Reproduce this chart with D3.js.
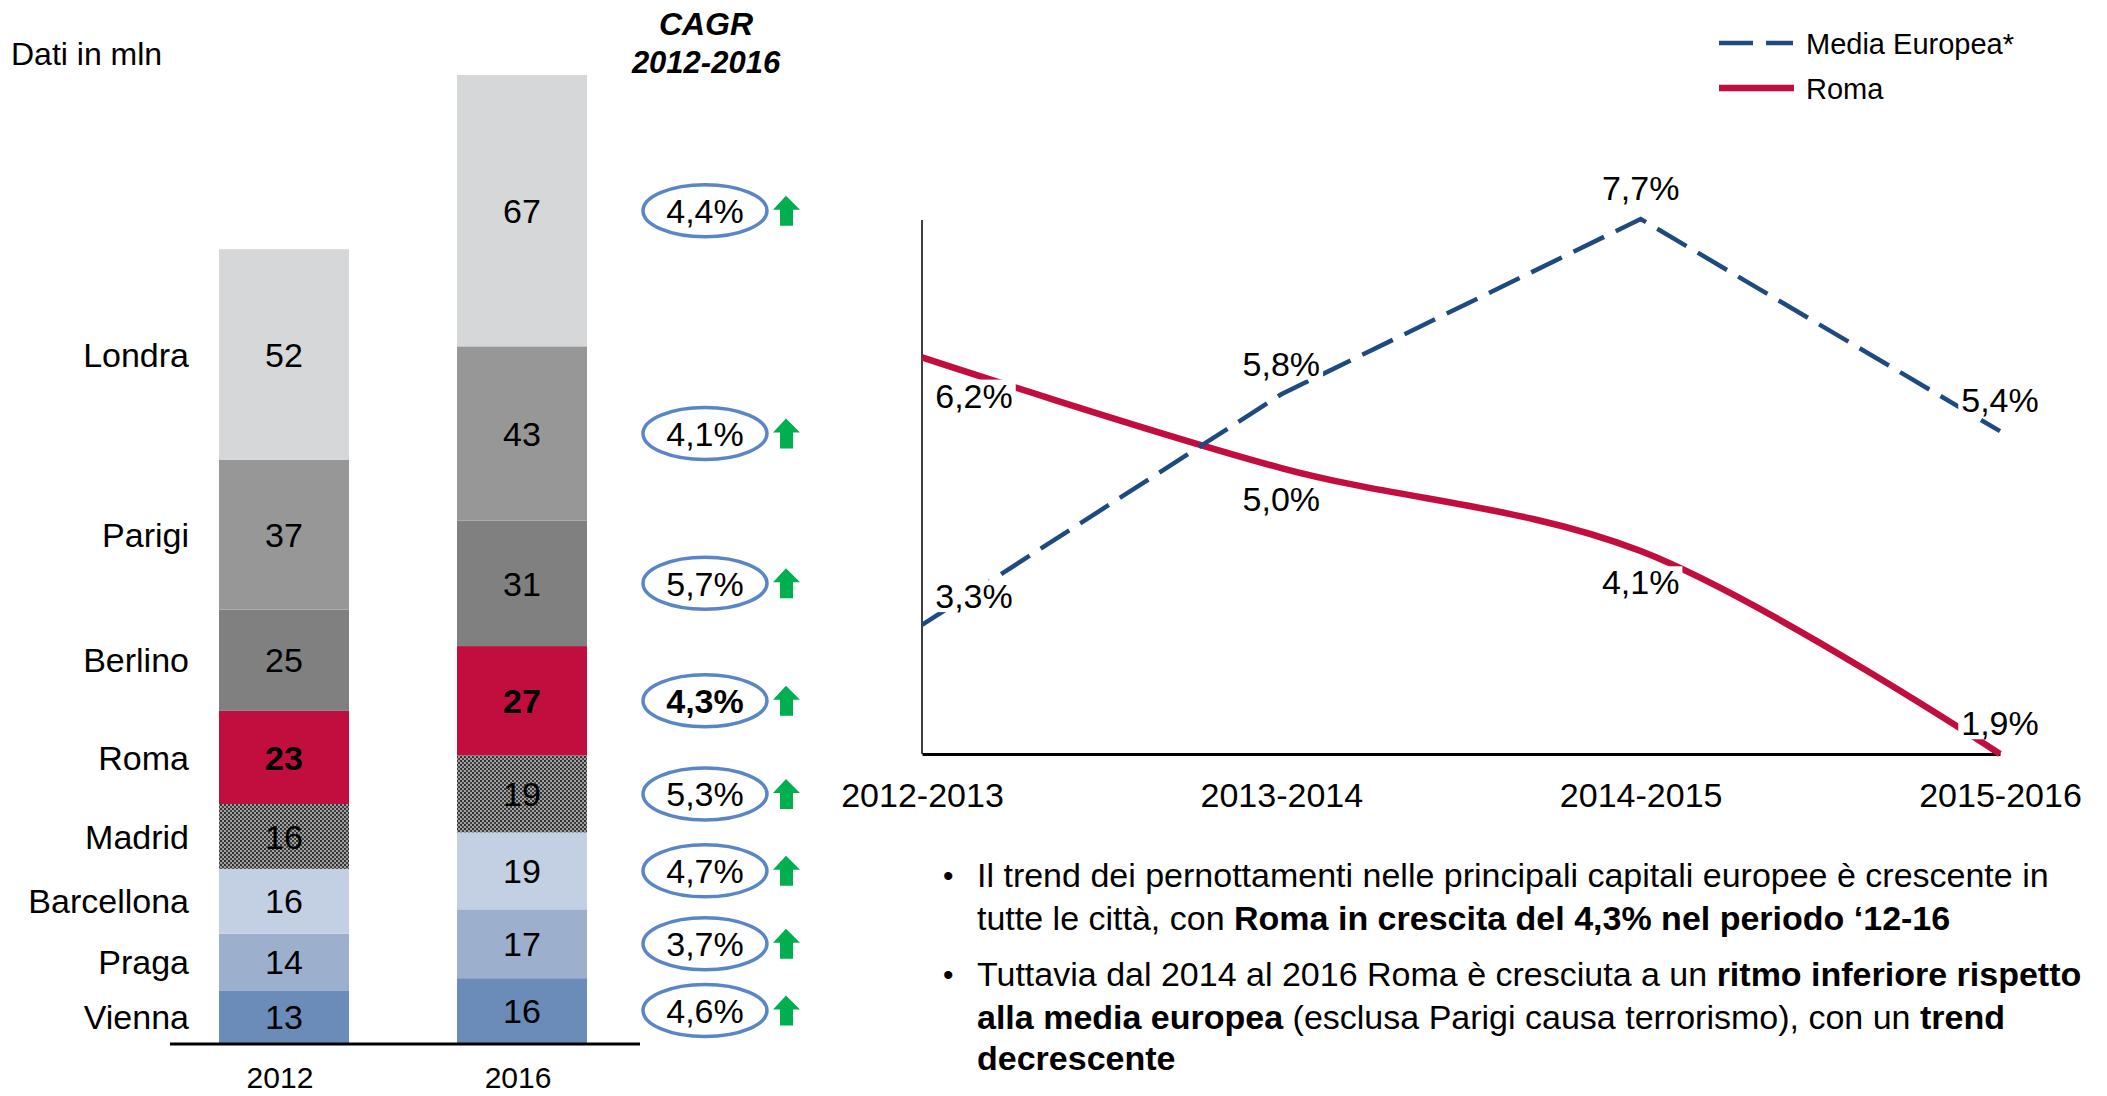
<!DOCTYPE html>
<html lang="it">
<head>
    <meta charset="UTF-8">
    <title>pernottamenti</title>
    <script src="https://cdn.jsdelivr.net/npm/d3@7"></script>
    <style>
        body { margin: 0; background: #fff; }
        text { font-family: "Liberation Sans", Arial, sans-serif; fill: #000; }
    </style>
</head>
<body>
<div id="container"></div>
<script>
    // dati (milioni di pernottamenti), dal basso verso l'alto
    const years = ["2012", "2016"];
    const cities = ["Vienna", "Praga", "Barcellona", "Madrid", "Roma", "Berlino", "Parigi", "Londra"];
    const values2012 = [13, 14, 16, 16, 23, 25, 37, 52];
    const values2016 = [16, 17, 19, 19, 27, 31, 43, 67];
    const cagr = ["4,6%", "3,7%", "4,7%", "5,3%", "4,3%", "5,7%", "4,1%", "4,4%"];

    // trend
    const periods = ["2012-2013", "2013-2014", "2014-2015", "2015-2016"];
    const mediaEuropea = [3.3, 5.8, 7.7, 5.4];
    const roma = [6.2, 5.0, 4.1, 1.9];

    const width = 2107, height = 1096;
    const cityColor = {
        Vienna: "#6B8BB9", Praga: "#9CB0CE", Barcellona: "#C3CFE2", Madrid: "url(#checker)",
        Roma: "#C10E3E", Berlino: "#808080", Parigi: "#979797", Londra: "#D6D7D9"
    };
    const blue = "#1F4A80", red = "#C10E3E";

    const svg = d3.select("#container").append("svg")
        .attr("width", width).attr("height", height);

    // pattern per Madrid
    const pat = svg.append("defs").append("pattern")
        .attr("id", "checker").attr("patternUnits", "userSpaceOnUse")
        .attr("width", 4).attr("height", 4);
    pat.append("rect").attr("width", 4).attr("height", 4).attr("fill", "#a0a0a0");
    pat.append("rect").attr("width", 2).attr("height", 2).attr("fill", "#303030");
    pat.append("rect").attr("x", 2).attr("y", 2).attr("width", 2).attr("height", 2).attr("fill", "#404040");

    // ---------- barre impilate ----------
    const rows = years.map((y, i) => {
        const r = {year: y};
        cities.forEach((c, j) => r[c] = (i === 0 ? values2012 : values2016)[j]);
        return r;
    });
    const series = d3.stack().keys(cities)(rows);

    const x = d3.scaleBand().domain(years).range([100, 706]).paddingInner(0.4538).paddingOuter(0.5);
    const y = d3.scaleLinear().domain([0, 239]).range([1043, 75]);

    const left = svg.append("g");
    series.forEach(s => {
        left.append("g").selectAll("rect")
            .data(s)
            .join("rect")
            .attr("x", d => x(d.data.year))
            .attr("y", d => y(d[1]))
            .attr("width", x.bandwidth())
            .attr("height", d => y(d[0]) - y(d[1]))
            .attr("fill", cityColor[s.key]);
        left.append("g").selectAll("text")
            .data(s)
            .join("text")
            .attr("x", d => x(d.data.year) + x.bandwidth() / 2)
            .attr("y", d => (y(d[0]) + y(d[1])) / 2)
            .attr("dy", "0.36em")
            .attr("text-anchor", "middle")
            .style("font-size", "34px")
            .style("font-weight", s.key === "Roma" ? "bold" : "normal")
            .text(d => d.data[s.key]);
    });

    // nomi città accanto al 2012
    const first = series.map(s => s[0]);
    left.append("g").selectAll("text")
        .data(first)
        .join("text")
        .attr("x", 189)
        .attr("y", d => (y(d[0]) + y(d[1])) / 2)
        .attr("dy", "0.36em")
        .attr("text-anchor", "end")
        .style("font-size", "34px")
        .text((d, i) => cities[i]);

    // asse
    left.append("line")
        .attr("x1", 170).attr("x2", 640)
        .attr("y1", 1044).attr("y2", 1044)
        .attr("stroke", "#000").attr("stroke-width", 3);
    const xAxis = left.append("g")
        .attr("transform", "translate(0,1044)")
        .call(d3.axisBottom(x).tickSize(0));
    xAxis.select(".domain").remove();
    xAxis.selectAll("text")
        .attr("x", -4)
        .attr("y", 44).attr("dy", 0)
        .style("font-size", "30px")
        .style("font-family", "'Liberation Sans', Arial, sans-serif")
        .attr("fill", "#000");

    svg.append("text").attr("x", 11).attr("y", 65)
        .style("font-size", "32px").text("Dati in mln");

    // CAGR
    svg.append("text").attr("x", 706).attr("y", 35).attr("text-anchor", "middle")
        .style("font-size", "32px").style("font-weight", "bold").style("font-style", "italic")
        .text("CAGR");
    svg.append("text").attr("x", 706).attr("y", 73).attr("text-anchor", "middle")
        .style("font-size", "31px").style("font-weight", "bold").style("font-style", "italic")
        .text("2012-2016");

    const last = series.map(s => s[1]);
    const cg = svg.append("g").selectAll("g")
        .data(last)
        .join("g")
        .attr("transform", d => `translate(705,${(y(d[0]) + y(d[1])) / 2})`);
    cg.append("ellipse")
        .attr("rx", 62).attr("ry", 26)
        .attr("fill", "none").attr("stroke", "#5A86C6").attr("stroke-width", 3.5);
    cg.append("text")
        .attr("text-anchor", "middle").attr("dy", "0.36em")
        .style("font-size", "34px")
        .style("font-weight", (d, i) => cities[i] === "Roma" ? "bold" : "normal")
        .text((d, i) => cagr[i]);
    cg.append("path")
        .attr("d", "M81,-15 L95,-1 L88,-1 L88,15 L75,15 L75,-1 L68,-1 Z")
        .attr("fill", "#00B050");

    // ---------- grafico a linee ----------
    const lx = d3.scalePoint().domain(periods).range([922, 2000]);
    const ly = d3.scaleLinear().domain([1.9, 7.7]).range([754, 219]);

    const right = svg.append("g");
    right.append("line").attr("x1", 922).attr("x2", 922).attr("y1", 220).attr("y2", 754)
        .attr("stroke", "#000").attr("stroke-width", 1.5);
    const bx = right.append("g").attr("transform", "translate(0,754)")
        .call(d3.axisBottom(lx).tickSize(0));
    bx.select(".domain").attr("stroke", "#000").attr("stroke-width", 3);
    bx.selectAll("text")
        .attr("y", 53).attr("dy", 0)
        .style("font-size", "34px")
        .style("font-family", "'Liberation Sans', Arial, sans-serif")
        .attr("fill", "#000");

    const romaData = periods.map((p, i) => ({p, v: roma[i]}));
    const mediaData = periods.map((p, i) => ({p, v: mediaEuropea[i]}));

    right.append("path")
        .datum(romaData)
        .attr("d", d3.line().x(d => lx(d.p)).y(d => ly(d.v)).curve(d3.curveCatmullRom.alpha(0.5)))
        .attr("fill", "none").attr("stroke", red).attr("stroke-width", 6.5);
    right.append("path")
        .datum(mediaData)
        .attr("d", d3.line().x(d => lx(d.p)).y(d => ly(d.v)))
        .attr("fill", "none").attr("stroke", blue).attr("stroke-width", 4.5)
        .attr("stroke-dasharray", "34,13");

    const fmt = v => v.toFixed(1).replace(".", ",") + "%";
    function addLabel(px, py, txt) {
        const g = right.append("g").attr("transform", `translate(${px},${py})`);
        const t = g.append("text").attr("text-anchor", "middle").attr("dy", "0.36em")
            .style("font-size", "34px").text(txt);
        const b = t.node().getBBox();
        g.insert("rect", "text")
            .attr("x", b.x - 3).attr("y", b.y + 3)
            .attr("width", b.width + 6).attr("height", b.height - 6)
            .attr("fill", "#fff");
    }
    mediaData.forEach((d, i) => {
        const dx = i === 0 ? 52 : 0;
        const dy = i === 0 ? -29 : -31;
        addLabel(lx(d.p) + dx, ly(d.v) + dy, fmt(d.v));
    });
    romaData.forEach((d, i) => {
        const last = i === romaData.length - 1;
        const dx = i === 0 ? 52 : 0;
        const dy = i === 0 ? 38 : (last ? -31 : 31);
        addLabel(lx(d.p) + dx, ly(d.v) + dy, fmt(d.v));
    });

    // legenda
    const legend = svg.append("g");
    legend.append("line").attr("x1", 1719).attr("x2", 1793).attr("y1", 43).attr("y2", 43)
        .attr("stroke", blue).attr("stroke-width", 4.5).attr("stroke-dasharray", "34,13");
    legend.append("line").attr("x1", 1719).attr("x2", 1794).attr("y1", 88).attr("y2", 88)
        .attr("stroke", red).attr("stroke-width", 6.5);
    legend.append("text").attr("x", 1806).attr("y", 44).attr("dy", "0.36em")
        .style("font-size", "29px").text("Media Europea*");
    legend.append("text").attr("x", 1806).attr("y", 89).attr("dy", "0.36em")
        .style("font-size", "29px").text("Roma");

    // note
    const notes = [
        {y: 875, bullet: true, parts: [["Il trend dei pernottamenti nelle principali capitali europee è crescente in", false]]},
        {y: 918, parts: [["tutte le città, con ", false], ["Roma in crescita del 4,3% nel periodo ‘12-16", true]]},
        {y: 974, bullet: true, parts: [["Tuttavia dal 2014 al 2016 Roma è cresciuta a un ", false], ["ritmo inferiore rispetto", true]]},
        {y: 1017, parts: [["alla media europea", true], [" (esclusa Parigi causa terrorismo), con un ", false], ["trend", true]]},
        {y: 1058, parts: [["decrescente", true]]}
    ];
    notes.forEach(n => {
        if (n.bullet) {
            svg.append("text").attr("x", 943).attr("y", n.y).attr("dy", "0.36em")
                .style("font-size", "30px").text("•");
        }
        const t = svg.append("text").attr("x", 977).attr("y", n.y).attr("dy", "0.36em")
            .style("font-size", "34px").attr("xml:space", "preserve");
        n.parts.forEach(p => {
            t.append("tspan").style("font-weight", p[1] ? "bold" : "normal").text(p[0]);
        });
    });
</script>
</body>
</html>
